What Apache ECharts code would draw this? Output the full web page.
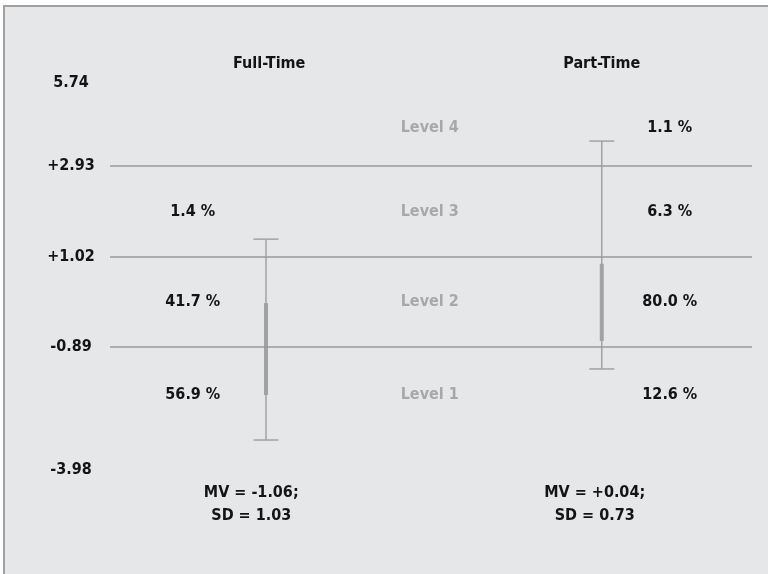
<!DOCTYPE html>
<html>
<head>
<meta charset="utf-8">
<script src="https://cdn.jsdelivr.net/npm/echarts@6/dist/echarts.min.js"></script>
<style>
  html, body { margin: 0; padding: 0; background: #fff; }
  #chart { width: 768px; height: 574px; }
</style>
</head>
<body>
<div id="chart"></div>
<script>
// data
const groups = ['Full-Time', 'Part-Time'];
const meanValues = [-1.06, 0.04];
const sdValues = [1.03, 0.73];
const whiskerLow = [-2.85, -1.35];
const whiskerHigh = [1.39, 3.46];
const boxLow = [-1.90, -0.76];
const boxHigh = [0.04, 0.87];
const levels = ['Level 4', 'Level 3', 'Level 2', 'Level 1'];
const fullTimePct = [null, 1.4, 41.7, 56.9];
const partTimePct = [1.1, 6.3, 80.0, 12.6];
const cutScores = [2.93, 1.02, -0.89];
const scaleEnds = [5.74, -3.98];

// layout (axis drawn linear through the cut scores)
const AXIS_TOP = 4.686;
const AXIS_BOTTOM = -3.483;
const GROUP_X = [24.3, 76.6];
const HEADER_X = [24.8, 76.6];
const STATS_X = [22.0, 75.5];
const PCT_X = [12.9, 87.2];
const LEVEL_X = 49.8;
const FONT = "'Liberation Sans Narrow', 'DejaVu Sans Condensed', 'Roboto Condensed', sans-serif";
const FS = 16;
const INK = '#141414';
const GRAY = '#a2a2a2';

function signed(v) {
  return (v > 0 ? '+' : '') + v.toFixed(2);
}

// centre of each level band
const bandCenters = [
  cutScores[0] + 0.8,
  (cutScores[0] + cutScores[1]) / 2,
  (cutScores[1] + cutScores[2]) / 2,
  cutScores[2] - 1.0
];

const labelItems = [];
levels.forEach((lv, i) => {
  labelItems.push({ x: LEVEL_X, y: bandCenters[i], text: lv, color: '#a8a8a8' });
  if (fullTimePct[i] != null) labelItems.push({ x: PCT_X[0], y: bandCenters[i], text: fullTimePct[i].toFixed(1) + ' %', color: INK });
  if (partTimePct[i] != null) labelItems.push({ x: PCT_X[1], y: bandCenters[i], text: partTimePct[i].toFixed(1) + ' %', color: INK });
});

const chart = echarts.init(document.getElementById('chart'));

const option = {
  backgroundColor: '#fff',
  animation: false,
  textStyle: { fontFamily: FONT },
  graphic: [{
    type: 'rect',
    z: -10,
    shape: { x: 4, y: 6, width: 800, height: 620 },
    style: { fill: '#e6e7e9', stroke: '#a0a0a0', lineWidth: 2 }
  }],
  grid: { left: 110, right: 16, top: 83, bottom: 104 },
  xAxis: { type: 'value', min: 0, max: 100, show: false },
  yAxis: {
    type: 'value',
    min: AXIS_BOTTOM,
    max: AXIS_TOP,
    axisLine: { show: false },
    axisTick: { show: false },
    splitLine: { show: false },
    axisLabel: {
      customValues: [AXIS_TOP, ...cutScores, AXIS_BOTTOM],
      align: 'center',
      margin: 39,
      fontSize: FS,
      fontWeight: 'bold',
      fontFamily: FONT,
      color: INK,
      formatter: v => {
        if (Math.abs(v - AXIS_TOP) < 1e-6) return String(scaleEnds[0]);
        if (Math.abs(v - AXIS_BOTTOM) < 1e-6) return String(scaleEnds[1]);
        return signed(v);
      }
    }
  },
  series: [
    {
      type: 'custom',
      name: 'labels',
      data: labelItems.map(d => [d.x, d.y]),
      silent: true,
      markLine: {
        silent: true,
        symbol: 'none',
        label: { show: false },
        lineStyle: { color: '#9a9a9a', width: 1.5, type: 'solid' },
        data: cutScores.map(c => ({ yAxis: c }))
      },
      renderItem: (params, api) => {
        const it = labelItems[params.dataIndex];
        const p = api.coord([api.value(0), api.value(1)]);
        return {
          type: 'text',
          x: p[0], y: p[1],
          style: {
            text: it.text, fill: it.color, align: 'center', verticalAlign: 'middle',
            font: 'bold ' + FS + 'px ' + FONT
          }
        };
      }
    },
    {
      type: 'custom',
      name: 'ranges',
      silent: true,
      data: groups.map((g, i) => [GROUP_X[i], whiskerLow[i], whiskerHigh[i], boxLow[i], boxHigh[i]]),
      renderItem: (params, api) => {
        const i = params.dataIndex;
        const x = api.value(0);
        const lo = api.coord([x, api.value(1)]);
        const hi = api.coord([x, api.value(2)]);
        const bLo = api.coord([x, api.value(3)]);
        const bHi = api.coord([x, api.value(4)]);
        const head = api.coord([HEADER_X[i], AXIS_TOP]);
        const stats = api.coord([STATS_X[i], AXIS_BOTTOM]);
        const cx = lo[0];
        const cap = 12.5;
        const thin = { stroke: GRAY, lineWidth: 1.5 };
        return {
          type: 'group',
          children: [
            { type: 'line', shape: { x1: cx, y1: lo[1], x2: cx, y2: hi[1] }, style: thin },
            { type: 'line', shape: { x1: cx - cap, y1: lo[1], x2: cx + cap, y2: lo[1] }, style: thin },
            { type: 'line', shape: { x1: cx - cap, y1: hi[1], x2: cx + cap, y2: hi[1] }, style: thin },
            { type: 'rect', shape: { x: cx - 2, y: bHi[1], width: 4, height: bLo[1] - bHi[1] }, style: { fill: GRAY } },
            {
              type: 'text', x: head[0], y: head[1] - 19,
              style: { text: groups[i], fill: INK, align: 'center', verticalAlign: 'middle', font: 'bold ' + FS + 'px ' + FONT }
            },
            {
              type: 'text', x: stats[0], y: stats[1] + 34,
              style: {
                text: 'MV = ' + signed(meanValues[i]) + ';\nSD = ' + sdValues[i].toFixed(2),
                fill: INK, align: 'center', verticalAlign: 'middle', lineHeight: 23,
                font: 'bold ' + FS + 'px ' + FONT
              }
            }
          ]
        };
      }
    }
  ]
};

chart.setOption(option);
</script>
</body>
</html>
